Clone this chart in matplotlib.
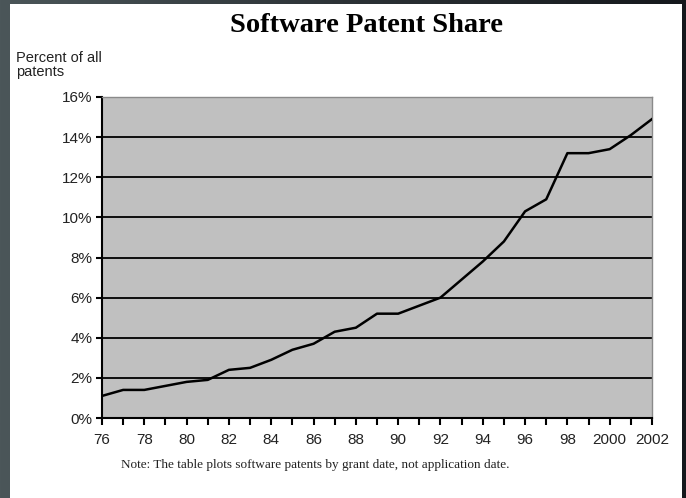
"""Software patent share, 1976-2002 (line over grey panel)."""
import matplotlib
matplotlib.use("Agg")
import matplotlib.pyplot as plt
import numpy as np
from matplotlib.patches import Rectangle
from matplotlib.ticker import FixedLocator, MultipleLocator

years = np.arange(1976, 2003)
share = [1.1, 1.4, 1.4, 1.6, 1.8, 1.9, 2.4, 2.5, 2.9, 3.4, 3.7, 4.3, 4.5,
         5.2, 5.2, 5.6, 6.0, 6.9, 7.8, 8.8, 10.3, 10.9, 13.2, 13.2, 13.4,
         14.1, 14.9]
label_years = [1976, 1978, 1980, 1982, 1984, 1986, 1988, 1990, 1992,
               1994, 1996, 1998, 2000, 2002]
label_text = ["76", "78", "80", "82", "84", "86", "88", "90", "92",
              "94", "96", "98", "2000", "2002"]
y_ticks = [0, 2, 4, 6, 8, 10, 12, 14, 16]

W, H = 686, 498
fig = plt.figure(figsize=(W / 100, H / 100), dpi=100)

# dark slide background with a left-to-right gradient, white page on top
bg = fig.add_axes([0, 0, 1, 1])
grad = np.linspace(0, 1, 256).reshape(1, -1)
bg.imshow(grad, aspect="auto", extent=[0, 1, 0, 1],
          cmap=matplotlib.colors.LinearSegmentedColormap.from_list(
              "bg", ["#4b5659", "#2c3236", "#15181c"]))
bg.add_patch(Rectangle((10 / W, 0), (682 - 10) / W, (H - 4) / H,
                       facecolor="white", edgecolor="none"))
bg.set_xlim(0, 1)
bg.set_ylim(0, 1)
bg.axis("off")

ax = fig.add_axes([102 / W, (H - 418) / H, 550 / W, 321 / H])
ax.set_facecolor("#c0c0c0")
ax.plot(years, share, color="black", lw=1.8, zorder=3)

ax.set_xlim(1976, 2002)
ax.set_ylim(0, 16)
ax.xaxis.set_major_locator(FixedLocator(label_years))
ax.set_xticklabels(label_text)
ax.xaxis.set_minor_locator(MultipleLocator(1))
ax.set_yticks(y_ticks)
ax.set_yticklabels([f"{v}%" for v in y_ticks])
for v in y_ticks[1:-1]:
    ax.axhline(v, color="black", lw=1.3, zorder=2)

for side in ("top", "right"):
    ax.spines[side].set_color("#8a8a8a")
    ax.spines[side].set_linewidth(1.0)
for side in ("left", "bottom"):
    ax.spines[side].set_color("black")
    ax.spines[side].set_linewidth(1.5)

for lab in ax.get_xticklabels() + ax.get_yticklabels():
    lab.set_fontfamily("Liberation Sans")
    lab.set_fontsize(11)
    lab.set_color("#222222")
ax.tick_params(axis="x", which="both", length=5, width=1.5, direction="out",
               pad=6)
ax.tick_params(axis="y", length=4, width=1.5, direction="out", pad=3)

fig.text(367 / W, 1 - 25 / H, "Software Patent Share", ha="center",
         va="center", family="Liberation Serif", weight="bold", size=20.5)
fig.text(16 / W, 1 - 65 / H, "Percent of all\npatents", ha="left",
         va="center", family="Liberation Sans", size=10.5, linespacing=1.0,
         color="#222222")
fig.text(121 / W, 1 - 465 / H,
         "Note: The table plots software patents by grant date, "
         "not application date.",
         ha="left", va="center", family="Liberation Serif", size=9.5,
         color="#222222")

fig.savefig("out.png", dpi=100)
